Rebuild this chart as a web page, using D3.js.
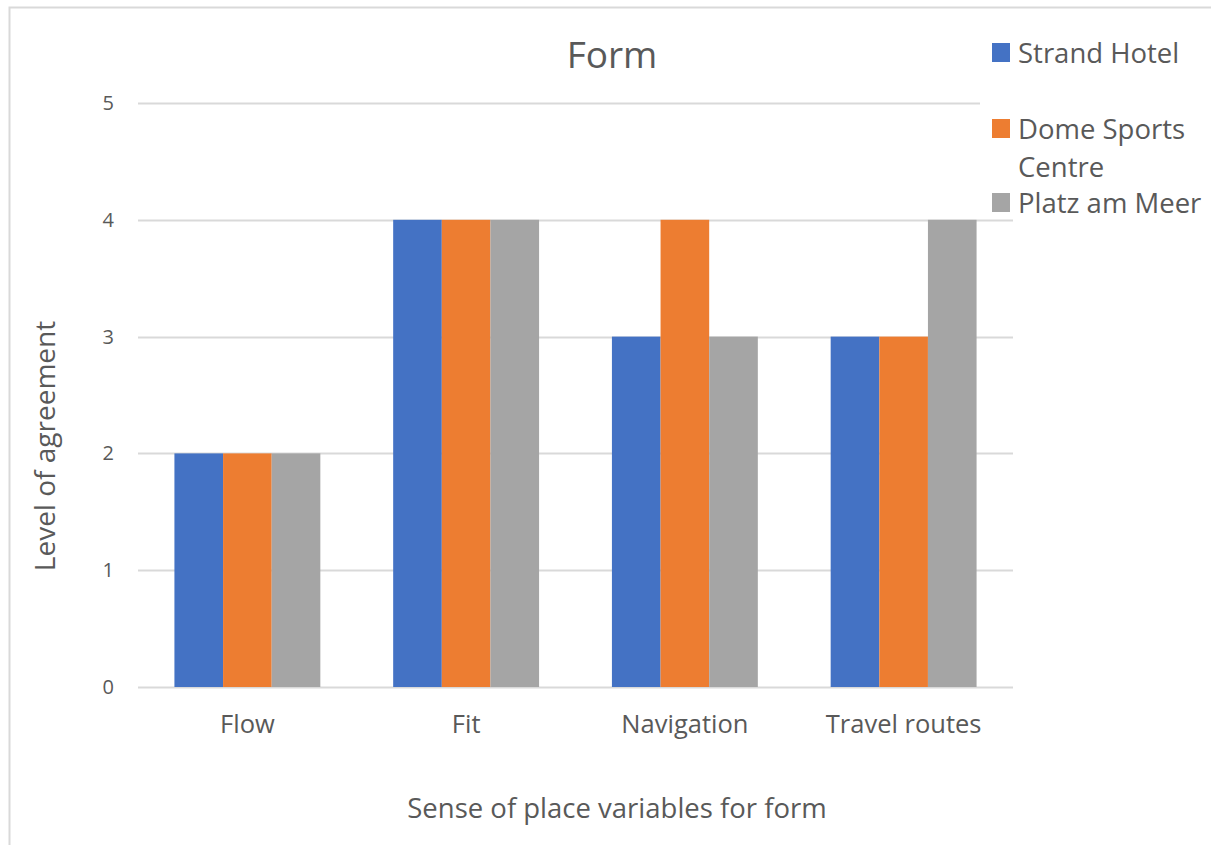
<!DOCTYPE html>
<html>
<head>
<meta charset="utf-8">
<script src="https://cdn.jsdelivr.net/npm/d3@7"></script>
<style>
  html, body { margin: 0; padding: 0; background: #fff; }
  svg text { font-family: "Open Sans", "Noto Sans", sans-serif; fill: #595959; }
</style>
</head>
<body>
<svg id="chart" width="1211" height="845"></svg>
<script>
// Sense of place variables for form, rated per site
const categories = ["Flow", "Fit", "Navigation", "Travel routes"];
const seriesNames = ["Strand Hotel", "Dome Sports Centre", "Platz am Meer"];
const strandHotel = [2, 4, 3, 3];
const domeSportsCentre = [2, 4, 4, 3];
const platzAmMeer = [2, 4, 3, 4];
const yTicks = [0, 1, 2, 3, 4, 5];
const colors = ["#4472c4", "#ed7d31", "#a5a5a5"];

const seriesValues = [strandHotel, domeSportsCentre, platzAmMeer];

const svg = d3.select("#chart");

// chart area frame
svg.append("rect")
  .attr("x", 9.5).attr("y", 7.5)
  .attr("width", 1260).attr("height", 900)
  .attr("fill", "none").attr("stroke", "#d9d9d9").attr("stroke-width", 2);

const plot = { left: 138, right: 1013, top: 103, bottom: 687 };

const x0 = d3.scaleBand()
  .domain(categories)
  .range([plot.left, plot.right])
  .paddingInner(0.333)
  .paddingOuter(0.1665);

const x1 = d3.scaleBand()
  .domain(seriesNames)
  .range([0, x0.bandwidth()]);

const y = d3.scaleLinear()
  .domain([0, 5])
  .range([plot.bottom, plot.top]);

// horizontal gridlines
const grid = svg.append("g");
yTicks.forEach(t => {
  grid.append("line")
    .attr("x1", plot.left)
    .attr("x2", t === 5 ? 980 : plot.right)
    .attr("y1", Math.round(y(t)) + 0.5)
    .attr("y2", Math.round(y(t)) + 0.5)
    .attr("stroke", "#d9d9d9")
    .attr("stroke-width", 2);
});

// y tick labels
const yAxis = d3.axisLeft(y).tickValues(yTicks).tickFormat(d3.format("d")).tickSize(0).tickPadding(0);
const yg = svg.append("g")
  .attr("transform", `translate(${plot.left - 24},0)`)
  .call(yAxis);
yg.select(".domain").remove();
yg.selectAll("text")
  .attr("font-size", 20)
  .attr("fill", "#595959")
  .style("font-family", "'Open Sans', sans-serif");

// bars
const rows = categories.map((c, i) => ({
  category: c,
  values: seriesNames.map((s, k) => ({ series: s, value: seriesValues[k][i], k }))
}));

const groups = svg.append("g").selectAll("g")
  .data(rows)
  .join("g")
  .attr("transform", d => `translate(${x0(d.category)},0)`);

groups.selectAll("rect")
  .data(d => d.values)
  .join("rect")
  .attr("x", d => x1(d.series))
  .attr("width", x1.bandwidth())
  .attr("y", d => y(d.value))
  .attr("height", d => y(0) - y(d.value))
  .attr("fill", d => colors[d.k]);

// x category labels
const xAxis = d3.axisBottom(x0).tickSize(0).tickPadding(0);
const xg = svg.append("g")
  .attr("transform", `translate(0,${plot.bottom + 46})`)
  .call(xAxis);
xg.select(".domain").remove();
xg.selectAll("text")
  .attr("dy", 0)
  .attr("font-size", 25.5)
  .attr("fill", "#595959")
  .style("font-family", "'Open Sans', sans-serif");

// title
svg.append("text")
  .attr("x", 612).attr("y", 68)
  .attr("text-anchor", "middle")
  .attr("font-size", 37)
  .text("Form");

// axis titles
svg.append("text")
  .attr("transform", "translate(55,446) rotate(-90)")
  .attr("text-anchor", "middle")
  .attr("font-size", 28)
  .text("Level of agreement");

svg.append("text")
  .attr("x", 617).attr("y", 818)
  .attr("text-anchor", "middle")
  .attr("font-size", 27.5)
  .text("Sense of place variables for form");

// legend
const legendItems = [
  { lines: ["Strand Hotel"], y: 43 },
  { lines: ["Dome Sports", "Centre"], y: 119 },
  { lines: ["Platz am Meer"], y: 193 }
];
const legend = svg.append("g");
legendItems.forEach((item, i) => {
  legend.append("rect")
    .attr("x", 992).attr("y", item.y)
    .attr("width", 18).attr("height", 19)
    .attr("fill", colors[i]);
  const t = legend.append("text")
    .attr("x", 1018).attr("y", item.y + 20)
    .attr("font-size", 27.5);
  item.lines.forEach((ln, j) => {
    t.append("tspan").attr("x", 1018).attr("dy", j === 0 ? 0 : 38).text(ln);
  });
});
</script>
</body>
</html>
